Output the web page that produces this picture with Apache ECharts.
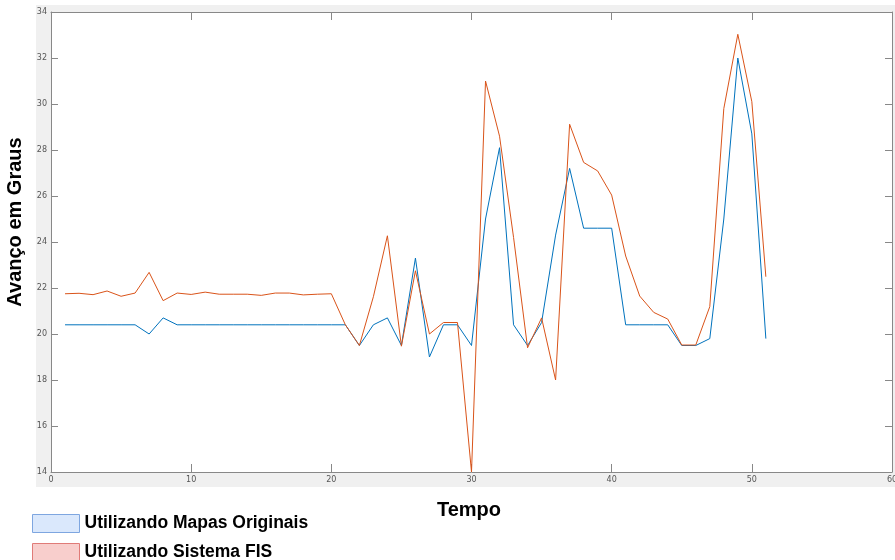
<!DOCTYPE html>
<html>
<head>
<meta charset="utf-8">
<script src="https://cdn.jsdelivr.net/npm/echarts@6/dist/echarts.min.js"></script>
<style>html,body{margin:0;padding:0;background:#fff}#c{width:895px;height:560px}</style>
</head>
<body>
<div id="c"></div>
<script>
var tempo = [1,2,3,4,5,6,7,8,9,10,11,12,13,14,15,16,17,18,19,20,21,22,23,24,25,26,27,28,29,30,31,32,33,34,35,36,37,38,39,40,41,42,43,44,45,46,47,48,49,50,51];
var mapasOriginais = [20.4,20.4,20.4,20.4,20.4,20.4,20.0,20.7,20.4,20.4,20.4,20.4,20.4,20.4,20.4,20.4,20.4,20.4,20.4,20.4,20.4,19.5,20.4,20.7,19.5,23.3,19.0,20.4,20.4,19.5,25.0,28.1,20.4,19.5,20.5,24.3,27.2,24.6,24.6,24.6,20.4,20.4,20.4,20.4,19.5,19.5,19.8,25.0,32.0,28.7,19.8];
var sistemaFIS = [21.75,21.77,21.71,21.87,21.64,21.78,22.68,21.45,21.78,21.72,21.82,21.73,21.73,21.73,21.68,21.78,21.78,21.70,21.73,21.75,20.4,19.5,21.62,24.27,19.47,22.75,20.0,20.5,20.5,14.0,31.0,28.6,24.2,19.4,20.7,18.0,29.12,27.46,27.09,26.04,23.39,21.65,20.94,20.65,19.52,19.52,21.19,29.8,33.03,30.1,22.49];
var nomes = ['Utilizando Mapas Originais', 'Utilizando Sistema FIS'];
var xTitulo = 'Tempo';
var yTitulo = 'Avanço em Graus';

function pares(vals) { return tempo.map(function (t, i) { return [t, vals[i]]; }); }

var chart = echarts.init(document.getElementById('c'));
var axisCol = '#888888';
function xAx(pos, show) {
  return { type: 'value', min: 0, max: 60, interval: 10, position: pos,
    axisLine: { show: true, onZero: false, lineStyle: { color: axisCol, width: 1 } },
    axisTick: { show: true, inside: true, length: 8, lineStyle: { color: axisCol } },
    axisLabel: { show: show, margin: 4, fontSize: 8, color: '#555', fontFamily: 'DejaVu Sans' },
    splitLine: { show: false } };
}
function yAx(pos, show) {
  return { type: 'value', min: 14, max: 34, interval: 2, position: pos,
    axisLine: { show: true, onZero: false, lineStyle: { color: axisCol, width: 1 } },
    axisTick: { show: true, inside: true, length: 7, lineStyle: { color: axisCol } },
    axisLabel: { show: show, margin: 4, fontSize: 8, color: '#555', fontFamily: 'DejaVu Sans' },
    splitLine: { show: false } };
}
function legenda(i, top, fill, border) {
  return {
    orient: 'vertical', left: 32, top: top, itemWidth: 47, itemHeight: 18, padding: 0,
    textStyle: { fontSize: 17.5, fontWeight: 'bold', color: '#000', fontFamily: 'Liberation Sans', lineHeight: 18 },
    data: [{ name: nomes[i], icon: 'rect', itemStyle: { color: fill, borderColor: border, borderWidth: 1 }, lineStyle: { width: 0, opacity: 0 } }]
  };
}
chart.setOption({
  animation: false,
  backgroundColor: '#fff',
  grid: { left: 51, right: 3, top: 12, bottom: 88, show: true, backgroundColor: '#fff', borderWidth: 0, containLabel: false, outerBoundsMode: 'none' },
  xAxis: [xAx('bottom', true), xAx('top', false)],
  yAxis: [yAx('left', true), yAx('right', false)],
  legend: [
    legenda(0, 514, '#dae8fc', '#7ea6e0'),
    legenda(1, 543, '#f8cecc', '#e07b78')
  ],
  graphic: [
    { type: 'rect', z: -10, silent: true, shape: { x: 36, y: 5, width: 859, height: 482 }, style: { fill: '#f0f0f0' } },
    { type: 'text', z: 10, x: 15, y: 222, rotation: Math.PI / 2,
      style: { text: yTitulo, fontSize: 20, fontWeight: 'bold', fontFamily: 'Liberation Sans', fill: '#000', align: 'center', verticalAlign: 'middle' } },
    { type: 'text', z: 10, x: 469, y: 510,
      style: { text: xTitulo, fontSize: 20, fontWeight: 'bold', fontFamily: 'Liberation Sans', fill: '#000', align: 'center', verticalAlign: 'middle' } }
  ],
  series: [
    { name: nomes[0], type: 'line', data: pares(mapasOriginais), showSymbol: false, symbol: 'none',
      lineStyle: { color: '#0072BD', width: 1 }, itemStyle: { color: '#0072BD' }, z: 2 },
    { name: nomes[1], type: 'line', data: pares(sistemaFIS), showSymbol: false, symbol: 'none',
      lineStyle: { color: '#D95319', width: 1 }, itemStyle: { color: '#D95319' }, z: 3 }
  ]
});
</script>
</body>
</html>
